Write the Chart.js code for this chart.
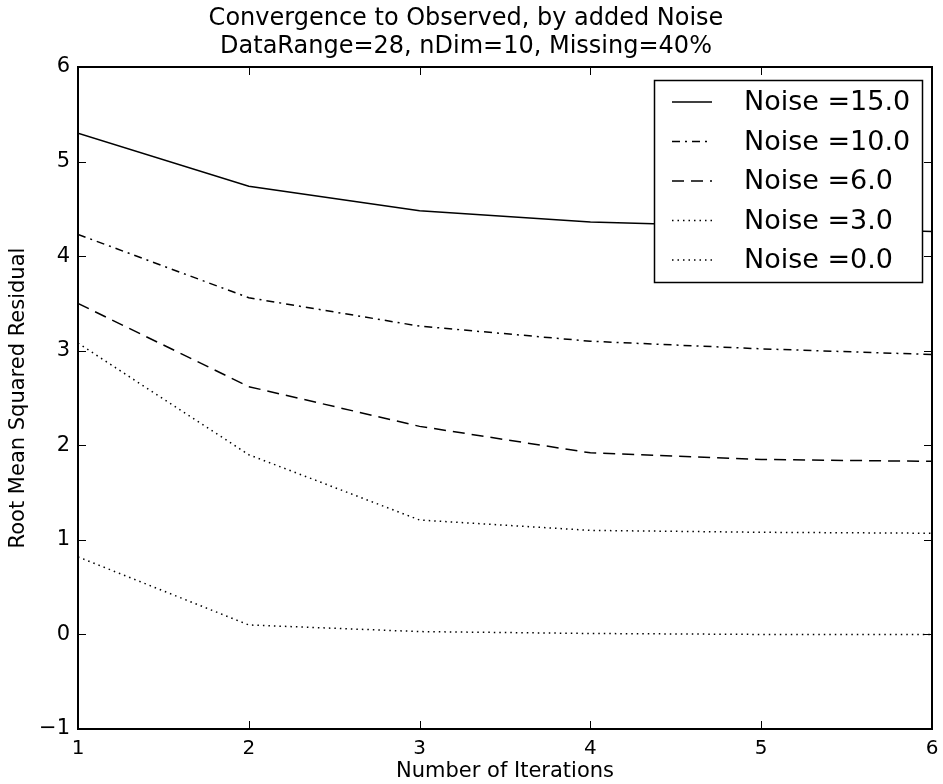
<!DOCTYPE html>
<html>
<head>
<meta charset="utf-8">
<script src="https://cdn.jsdelivr.net/npm/chart.js@4.4.1/dist/chart.umd.min.js"></script>
<style>
  html, body { margin: 0; padding: 0; background: #fff; }
  #wrap { width: 943px; height: 784px; }
</style>
</head>
<body>
<div id="wrap"><canvas id="chart" width="943" height="784"></canvas></div>
<script>
// values
const iterations = [1, 2, 3, 4, 5, 6];
const noiseLabels = ['Noise =15.0', 'Noise =10.0', 'Noise =6.0', 'Noise =3.0', 'Noise =0.0'];
const noise15 = [5.30, 4.74, 4.48, 4.36, 4.31, 4.26];
const noise10 = [4.23, 3.56, 3.26, 3.10, 3.02, 2.96];
const noise6 = [3.50, 2.62, 2.20, 1.92, 1.85, 1.83];
const noise3 = [3.08, 1.90, 1.21, 1.10, 1.08, 1.07];
const noise0 = [0.82, 0.10, 0.03, 0.01, 0.00, 0.00];
const yTicks = [-1, 0, 1, 2, 3, 4, 5, 6];

const series = [noise15, noise10, noise6, noise3, noise0];
const dashes = [[], [8, 5, 2, 5], [12, 7], [1.5, 4], [1.5, 4]];

const FONT = "'DejaVu Sans', sans-serif";

// frame, inward ticks on all four sides, and the boxed legend
const mplDecor = {
    id: 'mplDecor',
    afterDatasetsDraw(chart) {
        const { ctx, chartArea: a, scales } = chart;
        const len = 8;
        ctx.save();
        ctx.strokeStyle = '#000';
        ctx.lineWidth = 1;
        ctx.beginPath();
        iterations.forEach(v => {
            const x = Math.round(scales.x.getPixelForValue(v)) + 0.5;
            ctx.moveTo(x, a.bottom); ctx.lineTo(x, a.bottom - len);
            ctx.moveTo(x, a.top); ctx.lineTo(x, a.top + len);
        });
        yTicks.forEach(v => {
            const y = Math.round(scales.y.getPixelForValue(v)) + 0.5;
            ctx.moveTo(a.left, y); ctx.lineTo(a.left + len, y);
            ctx.moveTo(a.right, y); ctx.lineTo(a.right - len, y);
        });
        ctx.stroke();
        ctx.lineWidth = 2;
        ctx.strokeRect(a.left, a.top, a.right - a.left, a.bottom - a.top);

        // legend box
        const bx = 654, by = 80, bw = 268, bh = 202;
        ctx.fillStyle = '#fff';
        ctx.fillRect(bx, by, bw, bh);
        ctx.lineWidth = 1.5;
        ctx.strokeRect(bx + 0.5, by + 0.5, bw, bh);
        ctx.font = '27px ' + FONT;
        ctx.textBaseline = 'middle';
        ctx.fillStyle = '#000';
        chart.data.datasets.forEach((ds, i) => {
            const y = by + 22 + i * 39.5;
            ctx.beginPath();
            ctx.setLineDash(ds.borderDash || []);
            ctx.lineWidth = ds.borderWidth;
            ctx.moveTo(672, y); ctx.lineTo(712, y);
            ctx.stroke();
            ctx.setLineDash([]);
            ctx.fillText(ds.label, 744, y + 1);
        });
        ctx.restore();
    }
};

const datasets = series.map((vals, i) => ({
    label: noiseLabels[i],
    data: vals.map((v, j) => ({ x: iterations[j], y: v })),
    borderColor: '#000',
    borderWidth: 1.5,
    borderDash: dashes[i],
    pointRadius: 0,
    fill: false,
    tension: 0
}));

new Chart(document.getElementById('chart'), {
    type: 'line',
    data: { datasets },
    plugins: [mplDecor],
    options: {
        responsive: false,
        animation: false,
        layout: { padding: { left: 0, right: 11, top: 0, bottom: 0 } },
        plugins: {
            legend: { display: false },
            tooltip: { enabled: false },
            title: {
                display: true,
                text: ['Convergence to Observed, by added Noise', 'DataRange=28, nDim=10, Missing=40%'],
                color: '#000',
                font: { family: FONT, size: 24, weight: 'normal', lineHeight: 1.2 },
                padding: { top: 4, bottom: 5.4 }
            }
        },
        scales: {
            x: {
                type: 'linear',
                min: 1, max: 6,
                afterFit(s) { s.height = 55; },
                afterBuildTicks(s) { s.ticks = iterations.map(v => ({ value: v })); },
                grid: { display: false },
                border: { display: false },
                ticks: { color: '#000', padding: 0, maxRotation: 0, font: { family: FONT, size: 20 } },
                title: {
                    display: true, text: 'Number of Iterations', color: '#000',
                    font: { family: FONT, size: 21 }, padding: { top: 0, bottom: 0 }
                }
            },
            y: {
                min: -1, max: 6,
                afterFit(s) { s.width = 78; },
                afterBuildTicks(s) { s.ticks = yTicks.map(v => ({ value: v })); },
                grid: { display: false },
                border: { display: false },
                ticks: {
                    color: '#000', padding: 0, font: { family: FONT, size: 21 },
                    callback: v => String(v).replace('-', '\u2212')
                },
                title: {
                    display: true, text: 'Root Mean Squared Residual', color: '#000',
                    font: { family: FONT, size: 21 }, padding: { top: 6, bottom: 0 }
                }
            }
        }
    }
});
</script>
</body>
</html>
